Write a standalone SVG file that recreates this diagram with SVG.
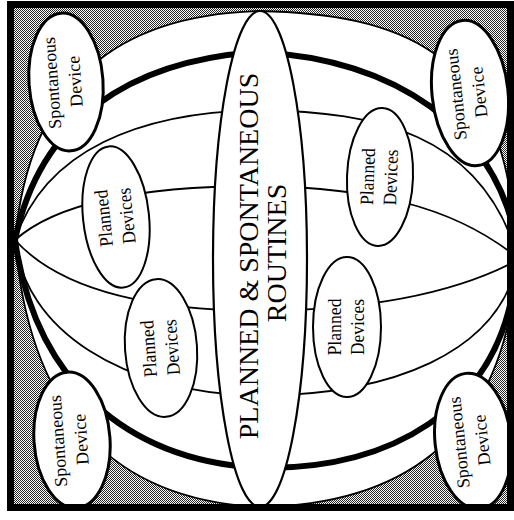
<svg xmlns="http://www.w3.org/2000/svg" width="514" height="520" viewBox="0 0 514 520">
<defs>
<pattern id="stip" width="4" height="4" patternUnits="userSpaceOnUse">
<rect width="4" height="4" fill="#ffffff"/>
<rect x="0" y="0" width="1" height="1" fill="#000"/>
<rect x="2" y="0" width="1" height="1" fill="#000"/>
<rect x="1" y="1" width="1" height="1" fill="#000"/>
<rect x="3" y="1" width="1" height="1" fill="#000"/>
<rect x="0" y="2" width="1" height="1" fill="#000"/>
<rect x="2" y="2" width="1" height="1" fill="#000"/>
<rect x="3" y="3" width="1" height="1" fill="#000"/>
<rect x="1" y="3" width="1" height="1" fill="#000"/>
</pattern>
<style>
.thin{fill:none;stroke:#000;stroke-width:1.8;stroke-linecap:round}
.thick{fill:none;stroke:#000;stroke-width:6;stroke-linecap:round}
.sp{fill:#fff;stroke:#000;stroke-width:3}
.pd{fill:#fff;stroke:#000;stroke-width:2}
.ce{fill:#fff;stroke:#000;stroke-width:2.2}
.t18{font-family:"Liberation Serif","Times New Roman",serif;font-size:18px;fill:#000;text-anchor:middle}
.t19{font-family:"Liberation Serif","Times New Roman",serif;font-size:19px;fill:#000;text-anchor:middle}
.t28{font-family:"Liberation Serif","Times New Roman",serif;font-size:28px;fill:#000;text-anchor:middle}
</style>
</defs>
<rect width="514" height="520" fill="#fff"/>
<rect x="10.5" y="4.5" width="500" height="503" fill="url(#stip)" opacity="0.85"/>
<path d="M15,240 C30,80 120,15 259,11 C400,14 500,50 514,225 L514,290 C495,440 400,505 259,507 C120,500 30,420 15,240 Z" fill="#fff" stroke="#000" stroke-width="1.8"/>
<g id="connectors">
<path class="thick" d="M15,240 C40,120 130,60 259,52 C400,60 490,130 514,230"/>
<path class="thin" d="M15,240 C45,150 140,112 259,110 C380,112 475,135 514,245"/>
<path class="thin" d="M15,240 C60,200 150,186 259,186 C370,188 450,205 514,255"/>
<path class="thin" d="M15,240 C60,290 150,310 259,311 C380,310 460,290 514,262"/>
<path class="thin" d="M15,240 C25,330 120,392 259,396 C400,394 490,350 514,275"/>
<path class="thick" d="M15,240 C35,380 125,460 259,468 C390,470 495,410 514,285"/>
</g>
<g id="routines">
<ellipse class="ce" cx="260" cy="259" rx="47" ry="248"/>
<text class="t28" transform="translate(258,256) rotate(-90)">PLANNED &amp; SPONTANEOUS</text>
<text class="t28" transform="translate(286,253) rotate(-90)">ROUTINES</text>
</g>
<g id="spont-tl" transform="translate(66,82) rotate(-4)">
<ellipse class="sp" rx="37" ry="69"/>
<text class="t18" transform="rotate(-90)" y="-8">Spontaneous</text>
<text class="t18" transform="rotate(-90)" y="15">Device</text>
</g>
<g id="spont-tr" transform="translate(470,93) rotate(-6)">
<ellipse class="sp" rx="38" ry="73"/>
<text class="t18" transform="rotate(-90)" y="-8">Spontaneous</text>
<text class="t18" transform="rotate(-90)" y="15">Device</text>
</g>
<g id="spont-bl" transform="translate(72,440) rotate(-4)">
<ellipse class="sp" rx="38" ry="68"/>
<text class="t18" transform="rotate(-90)" y="-8">Spontaneous</text>
<text class="t18" transform="rotate(-90)" y="15">Device</text>
</g>
<g id="spont-br" transform="translate(473,441) rotate(-6)">
<ellipse class="sp" rx="38" ry="68"/>
<text class="t18" transform="rotate(-90)" y="-8">Spontaneous</text>
<text class="t18" transform="rotate(-90)" y="15">Device</text>
</g>
<g id="planned-tl" transform="translate(116,217) rotate(-6)">
<ellipse class="pd" rx="33" ry="71"/>
<text class="t19" transform="rotate(-90)" y="-6" textLength="57" lengthAdjust="spacingAndGlyphs">Planned</text>
<text class="t19" transform="rotate(-90)" y="17" textLength="56" lengthAdjust="spacingAndGlyphs">Devices</text>
</g>
<g id="planned-bl" transform="translate(161,348) rotate(-4)">
<ellipse class="pd" rx="36" ry="69"/>
<text class="t19" transform="rotate(-90)" y="-6" textLength="57" lengthAdjust="spacingAndGlyphs">Planned</text>
<text class="t19" transform="rotate(-90)" y="17" textLength="56" lengthAdjust="spacingAndGlyphs">Devices</text>
</g>
<g id="planned-tr" transform="translate(380,177) rotate(2)">
<ellipse class="pd" rx="33" ry="69"/>
<text class="t19" transform="rotate(-90)" y="-6" textLength="57" lengthAdjust="spacingAndGlyphs">Planned</text>
<text class="t19" transform="rotate(-90)" y="17" textLength="56" lengthAdjust="spacingAndGlyphs">Devices</text>
</g>
<g id="planned-br" transform="translate(347,327)">
<ellipse class="pd" rx="34" ry="70"/>
<text class="t19" transform="rotate(-90)" y="-6" textLength="57" lengthAdjust="spacingAndGlyphs">Planned</text>
<text class="t19" transform="rotate(-90)" y="17" textLength="56" lengthAdjust="spacingAndGlyphs">Devices</text>
</g>
<rect x="10.5" y="4.5" width="500" height="503" fill="none" stroke="#000" stroke-width="7"/>
</svg>
